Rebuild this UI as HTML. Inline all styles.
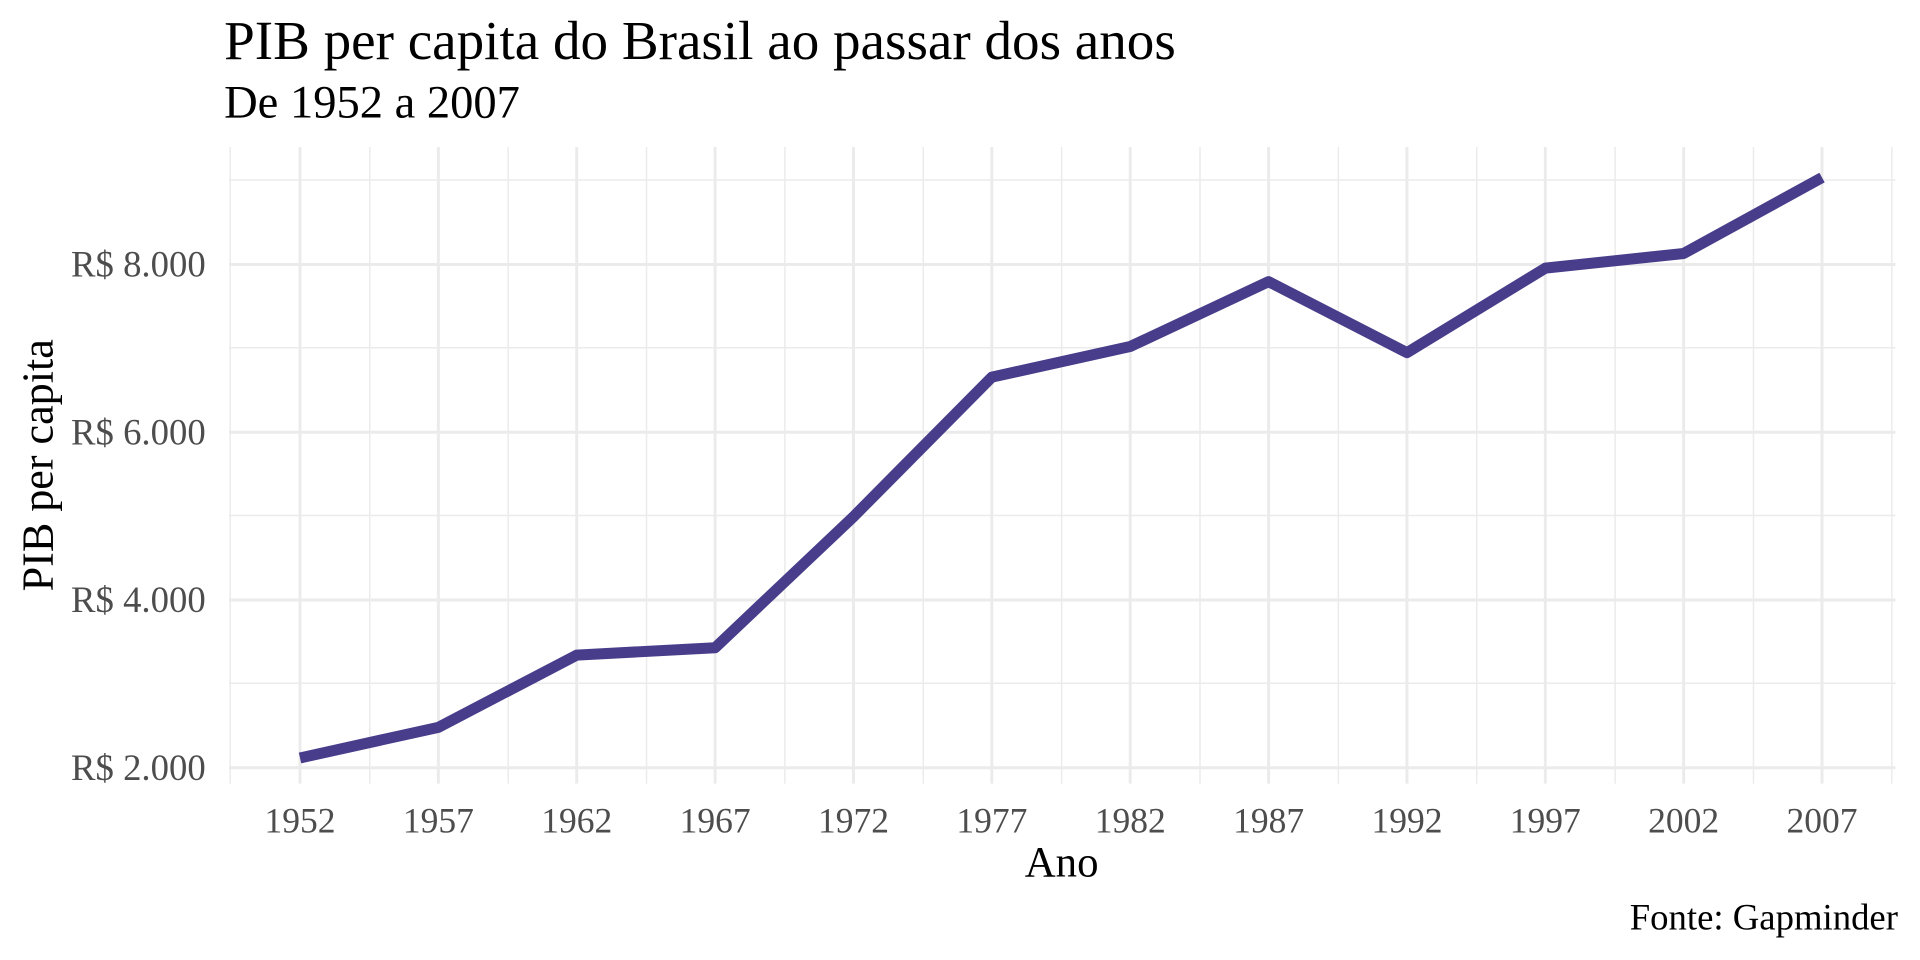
<!DOCTYPE html>
<html><head><meta charset="utf-8"><style>html,body{margin:0;padding:0;background:#fff}svg{display:block}</style></head>
<body>
<svg width="1920" height="960" viewBox="0 0 1568 784" xmlns="http://www.w3.org/2000/svg" font-family="Liberation Serif, DejaVu Serif, serif">
<rect width="1568" height="784" fill="#fff"/>
<g stroke="#ebebeb" stroke-width="1.2">
<line x1="187" x2="1548" y1="147" y2="147"/><line x1="187" x2="1548" y1="284" y2="284"/><line x1="187" x2="1548" y1="421" y2="421"/><line x1="187" x2="1548" y1="558" y2="558"/>
<line x1="188" x2="188" y1="120" y2="640"/><line x1="302" x2="302" y1="120" y2="640"/><line x1="415" x2="415" y1="120" y2="640"/><line x1="528" x2="528" y1="120" y2="640"/><line x1="641" x2="641" y1="120" y2="640"/><line x1="754" x2="754" y1="120" y2="640"/><line x1="867" x2="867" y1="120" y2="640"/><line x1="980" x2="980" y1="120" y2="640"/><line x1="1093" x2="1093" y1="120" y2="640"/><line x1="1206" x2="1206" y1="120" y2="640"/><line x1="1319" x2="1319" y1="120" y2="640"/><line x1="1432" x2="1432" y1="120" y2="640"/><line x1="1545" x2="1545" y1="120" y2="640"/>
</g>
<g stroke="#ebebeb" stroke-width="2.4">
<line x1="187" x2="1548" y1="216" y2="216"/><line x1="187" x2="1548" y1="353" y2="353"/><line x1="187" x2="1548" y1="490" y2="490"/><line x1="187" x2="1548" y1="627" y2="627"/>
<line x1="245" x2="245" y1="120" y2="640"/><line x1="358" x2="358" y1="120" y2="640"/><line x1="471" x2="471" y1="120" y2="640"/><line x1="584" x2="584" y1="120" y2="640"/><line x1="697" x2="697" y1="120" y2="640"/><line x1="810" x2="810" y1="120" y2="640"/><line x1="923" x2="923" y1="120" y2="640"/><line x1="1036" x2="1036" y1="120" y2="640"/><line x1="1149" x2="1149" y1="120" y2="640"/><line x1="1262" x2="1262" y1="120" y2="640"/><line x1="1375" x2="1375" y1="120" y2="640"/><line x1="1488" x2="1488" y1="120" y2="640"/>
</g>
<polyline fill="none" stroke="#483D8B" stroke-width="9" stroke-linejoin="round" points="245,619 358,594 471,535 584,529 697,422 810,308 923,283 1036,230 1149,288 1262,219 1375,207 1488,145"/>
<g fill="#4d4d4d" font-size="30" text-anchor="end">
<text x="168" y="226">R$ 8.000</text><text x="168" y="363">R$ 6.000</text><text x="168" y="500">R$ 4.000</text><text x="168" y="637">R$ 2.000</text>
</g>
<g fill="#4d4d4d" font-size="29" text-anchor="middle">
<text x="245" y="680">1952</text><text x="358" y="680">1957</text><text x="471" y="680">1962</text><text x="584" y="680">1967</text><text x="697" y="680">1972</text><text x="810" y="680">1977</text><text x="923" y="680">1982</text><text x="1036" y="680">1987</text><text x="1149" y="680">1992</text><text x="1262" y="680">1997</text><text x="1375" y="680">2002</text><text x="1488" y="680">2007</text>
</g>
<text x="867" y="716" font-size="35" text-anchor="middle" fill="#000">Ano</text>
<text transform="translate(43,380) rotate(-90)" font-size="36" text-anchor="middle" fill="#000">PIB per capita</text>
<text x="183" y="48" font-size="45" fill="#000">PIB per capita do Brasil ao passar dos anos</text>
<text x="183" y="96" font-size="38" fill="#000">De 1952 a 2007</text>
<text x="1550" y="759" font-size="30" text-anchor="end" fill="#000">Fonte: Gapminder</text>
</svg>
</body></html>
